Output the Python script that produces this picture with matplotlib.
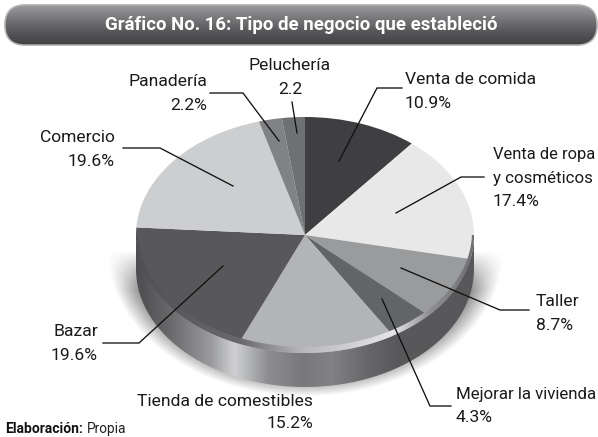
import numpy as np
import matplotlib
matplotlib.use('Agg')
import matplotlib.pyplot as plt
from matplotlib.colors import LinearSegmentedColormap
from matplotlib.patches import FancyBboxPatch, PathPatch
from matplotlib.path import Path

plt.rcParams['font.family'] = ['Roboto', 'DejaVu Sans']

categories = ['Venta de comida', 'Venta de ropa y cosméticos', 'Taller', 'Mejorar la vivienda',
              'Tienda de comestibles', 'Bazar', 'Comercio', 'Panadería', 'Peluchería']
values = [10.9, 17.4, 8.7, 4.3, 15.2, 19.6, 19.6, 2.2, 2.2]
colors = ['#3f3f41', '#e8e8e9', '#9a9b9d', '#636466', '#b3b4b6', '#58585a', '#cdcecf', '#818284', '#6f7072']

W, H = 598, 437
# pie geometry in pixels
cx, cy, rx, ry, depth = 305, 235, 169, 118, 34


def gradient(ax, cmap, extent, clip, vertical=False):
    ramp = np.linspace(0, 1, 256)
    ramp = ramp.reshape(-1, 1) if vertical else ramp.reshape(1, -1)
    im = ax.imshow(ramp, cmap=cmap, aspect='auto', extent=extent, zorder=clip.get_zorder())
    im.set_clip_path(clip)
    ax.set_xlim(0, W)
    ax.set_ylim(H, 0)


def band(x0, y0, a0, b0, x1, y1, a1, b1):
    # closed band between two lower half ellipses
    t = np.linspace(0, np.pi, 200)
    outer = np.c_[x0 + a0 * np.cos(t), y0 + b0 * np.sin(t)]
    inner = np.c_[x1 + a1 * np.cos(t), y1 + b1 * np.sin(t)][::-1]
    return Path(np.vstack([outer, inner, outer[:1]]))


fig = plt.figure(figsize=(5.98, 4.37), dpi=100)
ax = fig.add_axes([0, 0, 1, 1])
ax.set_xlim(0, W)
ax.set_ylim(H, 0)
ax.axis('off')

# soft shadow under the pie
xx, yy = np.meshgrid(np.arange(W), np.arange(H))
d = np.sqrt(((xx - cx) / 198) ** 2 + ((yy - 250) / 146) ** 2)
shadow = np.clip((1 - d) / 0.13, 0, 1) * np.clip((yy - 250) / 40, 0, 1)
shadow_cmap = LinearSegmentedColormap.from_list('sh', ['#ffffff', '#8a8a8a'])
ax.imshow(shadow, cmap=shadow_cmap, extent=(0, W, H, 0), aspect='auto', zorder=1)
ax.set_xlim(0, W)
ax.set_ylim(H, 0)

# pie side
side_clip = PathPatch(band(cx, cy + depth, rx, ry, cx, cy - 2, rx, ry), fc='none', ec='none', zorder=2)
ax.add_patch(side_clip)
side_cmap = LinearSegmentedColormap.from_list('side', [
    (0.0, '#4d4d4f'), (0.09, '#666668'), (0.22, '#9a9a9c'), (0.29, '#d0d1d3'),
    (0.39, '#8e8e90'), (0.49, '#79797b'), (0.58, '#828284'), (0.69, '#666668'),
    (0.78, '#58585a'), (1.0, '#58585a')])
gradient(ax, side_cmap, (cx - rx, cx + rx, cy + ry + depth, cy), side_clip)

# top face: a real pie squashed by its axes
pie_ax = fig.add_axes([(cx - rx) / W, 1 - (cy + ry) / H, 2 * rx / W, 2 * ry / H], zorder=2)
pie_ax.pie(values, colors=colors, startangle=90, counterclock=False, radius=1)
pie_ax.set_aspect('auto')
pie_ax.set_xlim(-1, 1)
pie_ax.set_ylim(-1, 1)

# overlay for bevel, header, leaders and labels
over = fig.add_axes([0, 0, 1, 1], zorder=3)
over.set_xlim(0, W)
over.set_ylim(H, 0)
over.axis('off')

bevel_clip = PathPatch(band(cx, cy, rx, ry, cx, cy - 3, rx - 2, ry - 3), fc='none', ec='none', zorder=1)
over.add_patch(bevel_clip)
bevel_cmap = LinearSegmentedColormap.from_list('bevel', [
    (0.0, '#505052'), (0.31, '#6a6a6c'), (0.49, '#b8b8ba'), (0.76, '#e6e6e8'),
    (0.87, '#909092'), (1.0, '#707072')])
gradient(over, bevel_cmap, (cx - rx, cx + rx, cy + ry, cy), bevel_clip)

# header bar
bar_clip = FancyBboxPatch((25, 25), 552, 0, boxstyle='round,pad=20,rounding_size=20',
                          fc='none', ec='#b5b5b7', lw=1, zorder=2)
over.add_patch(bar_clip)
bar_cmap = LinearSegmentedColormap.from_list('bar', ['#9c9c9e', '#77777a', '#565658', '#404042'])
gradient(over, bar_cmap, (0, W, 46, 5), bar_clip, vertical=True)
over.add_patch(FancyBboxPatch((25, 25), 552, 0, boxstyle='round,pad=20,rounding_size=20',
                              fc='none', ec='#b5b5b7', lw=1, zorder=3))
over.text(301, 24.5, 'Gráfico No. 16: Tipo de negocio que estableció', color='white',
          fontsize=13.4, fontweight='bold', ha='center', va='center', zorder=4)

leaders = [
    [(339, 161), (377, 88), (402, 88)],
    [(396, 213), (461, 177), (484, 177)],
    [(401, 268), (500, 310), (529, 310)],
    [(382, 299), (430, 406), (451, 406)],
    [(223, 266), (139, 343), (103, 343)],
    [(233, 186), (160, 148), (123, 148)],
    [(279, 141), (243, 93), (210, 93)],
    [(297, 133), (292, 102)],
]
for pts in leaders:
    over.plot(*zip(*pts), color='#111111', lw=0.95, solid_joinstyle='miter', zorder=5)

labels = [
    (405, 79, 'Venta de comida', 'left', 12.6),
    (405, 103, '10.9%', 'left', 12.6),
    (493, 154, 'Venta de ropa', 'left', 11.9),
    (493, 178, 'y cosméticos', 'left', 12.2),
    (493, 202, '17.4%', 'left', 12.6),
    (536, 301, 'Taller', 'left', 12.6),
    (536, 325, '8.7%', 'left', 12.6),
    (456, 394, 'Mejorar la vivienda', 'left', 12.2),
    (456, 418, '4.3%', 'left', 12.6),
    (313, 401, 'Tienda de comestibles', 'right', 12.6),
    (313, 424, '15.2%', 'right', 12.6),
    (98, 332, 'Bazar', 'right', 12.6),
    (98, 356, '19.6%', 'right', 12.6),
    (115, 137, 'Comercio', 'right', 12.6),
    (115, 161, '19.6%', 'right', 12.6),
    (207, 82, 'Panadería', 'right', 12.6),
    (207, 106, '2.2%', 'right', 12.6),
    (290, 66, 'Peluchería', 'center', 12.6),
    (290, 90, '2.2', 'center', 12.6),
]
for x, y, s, ha, size in labels:
    over.text(x, y, s, fontsize=size, ha=ha, va='center', color='#1a1a1a', zorder=6)

over.text(5, 429, 'Elaboración:', fontsize=10, fontweight='bold', va='center', color='#111111')
over.text(87, 429, 'Propia', fontsize=9.8, va='center', color='#222222')

fig.savefig('out.png', dpi=100)
